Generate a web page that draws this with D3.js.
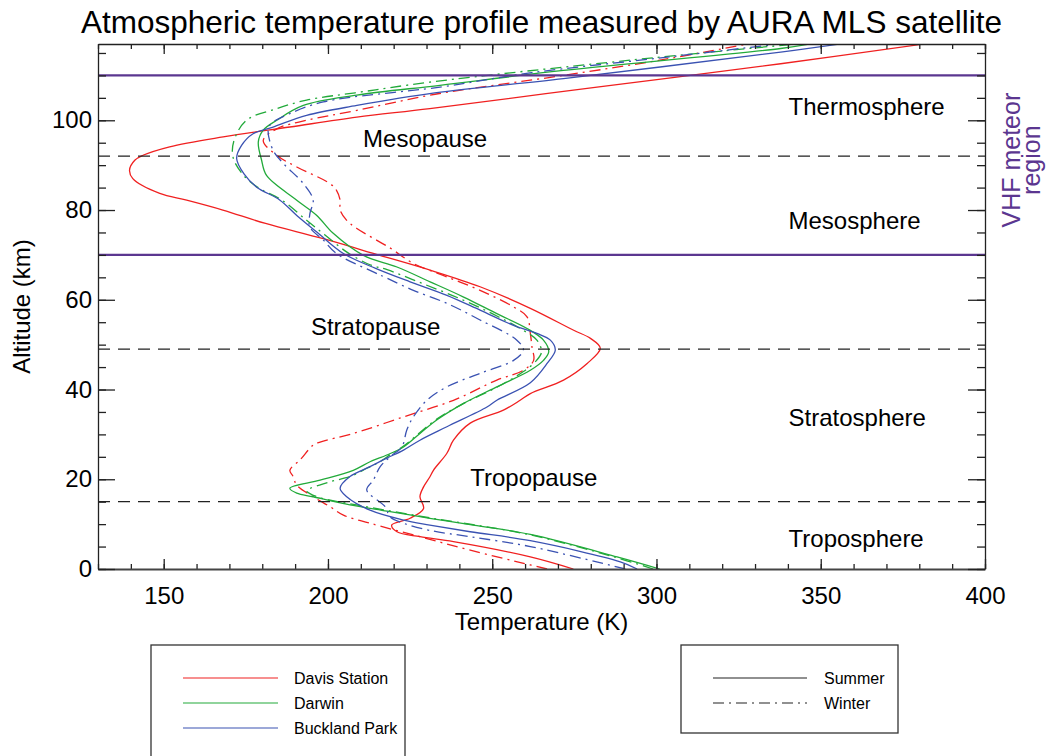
<!DOCTYPE html>
<html>
<head>
<meta charset="utf-8">
<script src="https://cdn.jsdelivr.net/npm/d3@7"></script>
<style>
  body { margin: 0; background: #fff; }
  svg { display: block; font-family: "Liberation Sans", Arial, Helvetica, sans-serif; }
  .curve { fill: none; stroke-width: 1.3; stroke-linejoin: round; }
</style>
</head>
<body>
<svg id="chart" width="1047" height="756"></svg>
<script>
'use strict';

// profiles: [temperature (K), altitude (km)]
const davisSummer = [[274.7,0],[261.6,2.7],[238.2,6.1],[228,7.2],[221,8.3],[219.4,9.8],[225,11.3],[229.1,13.5],[228,16.1],[229.1,18.3],[231,20.5],[232.1,22],[236.2,25.8],[238.2,28.7],[243.3,32.5],[253.4,35.4],[258.5,37.6],[261.6,39.1],[271.7,42.1],[278.9,45.8],[282.9,49.2],[279.9,51.4],[274.8,53.2],[261.6,58.1],[246.3,62.9],[231.1,66.6],[215.8,69.9],[198.6,73.6],[181,77],[168,80],[157,82.2],[148.8,83.7],[140.6,87],[139.6,88.9],[141.2,91.1],[143.7,92.2],[151.8,94.1],[168.1,96.3],[188.4,98.5],[208.8,100.7],[231,102.6],[281.9,107.4],[337.8,112.6],[380.5,116.9]];
const davisWinter = [[266.7,0],[261.6,0.9],[243.3,4.2],[228,7.2],[212.8,10.2],[204.7,12],[200.6,13.9],[195.5,16.1],[190.5,18.7],[189.4,20.6],[188.4,22],[191.5,24.3],[195.5,27.6],[197.6,28.3],[207.7,30.2],[223,33.9],[238.2,37.6],[251.4,42.1],[259.5,44.3],[262.6,46.5],[262.1,49.5],[261.6,52.5],[260.6,56.2],[256.5,58.4],[246.3,62.1],[236.2,65.1],[226,68.1],[219,71.5],[208.8,75.9],[205.7,77.7],[203.7,80],[203.7,82.2],[202.6,84.4],[200.6,85.9],[190.5,89.6],[184.4,92.2],[180.3,95.5],[184.4,98.1],[193.5,100],[208.8,102.2],[232.6,105.8],[271.7,110],[301,113.4],[327,116.9]];
const darwinSummer = [[301,0],[288,2.7],[261.6,7.7],[243.3,9.9],[231,11.3],[218,12.9],[206.7,14.3],[195.5,16.1],[190.5,16.9],[188.4,18],[197.6,19.8],[207.7,22],[212.8,23.9],[217.9,25.4],[223,27.2],[228,30.2],[233.1,33.2],[241.3,36.9],[251.4,40.6],[261.6,44.3],[265.6,46.5],[267.2,48.4],[265.6,51],[260.6,53.6],[251.4,56.9],[241.3,60.6],[231.1,64],[221,67.3],[210.8,69.9],[201.6,74.8],[196.6,78.8],[190.5,82.2],[181.3,87.7],[179.8,91.1],[178.8,95.2],[180.3,97.8],[184.4,100],[192.5,103.3],[208.8,105.6],[234.1,107.8],[271.7,111.1],[337.8,116],[346,116.9]];
const darwinWinter = [[299,0],[287,2.7],[261,7.7],[231,11.4],[210,14.1],[198,15.8],[194.5,16.8],[193.5,17.4],[200,19.3],[206.7,20.6],[212,22.5],[215.8,23.9],[219,25.5],[223,27.4],[228,30.4],[233.1,33.4],[241.3,36.9],[251.4,40.5],[259.5,44],[263.5,46.5],[265,48.4],[263.6,51],[258.5,53.6],[250,56.9],[240,60.3],[228.5,63.7],[218,66.7],[212.8,67.8],[206,70.5],[199,74.5],[193.5,77.7],[186,82.2],[178.5,85.1],[174,88],[171.1,91.8],[171.4,95.5],[175.2,100],[184.4,102.6],[193.5,104.5],[210,106.3],[231,108.5],[292,113.4],[341,116.9]];
const bucklandSummer = [[294.1,0],[289,1.6],[261.6,6.3],[243.3,8.3],[231,9.8],[223,10.9],[212.8,13.1],[205.7,16.1],[203.7,18],[206.7,20.6],[212.8,22.8],[217.9,24.7],[223,26.5],[228,28.7],[236.2,31.7],[248.4,36.1],[251.4,37.6],[261.6,41.5],[266.7,45.8],[269.2,48.8],[267.7,51],[263.6,52.5],[256.5,54.3],[246.3,57.7],[236.2,61],[225,64],[214.5,67],[204.7,70.3],[196.6,75.1],[190.5,78.8],[185.4,82.2],[178.3,85.1],[174.5,88],[172.2,91.5],[173.7,94.4],[177.2,97],[183.3,98.5],[193.5,101.1],[208.8,103.3],[232.5,106.1],[271.7,109.3],[337.8,115.2],[355,116.9]];
const bucklandWinter = [[290.5,0],[261.6,5],[243.3,7.2],[231,8.6],[223,10.2],[218.9,11.6],[217.4,13.9],[211.8,17.6],[213.8,19.8],[215.9,22.8],[218.9,25],[222.5,27.2],[224,31],[226,33.9],[230.1,37.6],[236.2,40.6],[246.3,43.6],[256.5,46.5],[259.5,48.8],[257.5,51],[246.3,55.5],[236.2,59.2],[226,62.1],[218,64.8],[213.8,66.2],[202.6,70.3],[198.6,73.3],[194.5,76.2],[194.5,79.2],[195.5,82.2],[192.5,85.9],[186.4,90.4],[183.3,93.3],[181.8,97.8],[182.8,99.3],[188.4,101.5],[198.6,104.1],[234.1,107.4],[262,110.6],[300,113.8],[336,116.9]];

const siteNames = ['Davis Station', 'Darwin', 'Buckland Park'];
const seasonNames = ['Summer', 'Winter'];
const xTicks = [150, 200, 250, 300, 350, 400];
const yTicks = [0, 20, 40, 60, 80, 100];

// boundaries (km)
const pauseNames = ['Mesopause', 'Stratopause', 'Tropopause'];
const pauseAlts = [92, 49, 15];
const meteorAlts = [110, 70];
const layerNames = ['Thermosphere', 'Mesosphere', 'Stratosphere', 'Troposphere'];

// where the labels sit, in data units [K, km]
const pauseLabelAt = [[210.7, 94], [194.8, 52.1], [243.3, 18.5]];
const layerLabelAt = [[340.2, 101.1], [340.2, 75.7], [340.2, 31.8], [340.2, 4.9]];

const colors = ['#f02020', '#22aa3a', '#3a52b2'];
const dashes = [null, '11,5,2,5'];
const purple = '#5b3690';

const profiles = [
  [davisSummer, davisWinter],
  [darwinSummer, darwinWinter],
  [bucklandSummer, bucklandWinter]
];

const x = d3.scaleLinear().domain([130, 400]).range([98, 985]);
const y = d3.scaleLinear().domain([0, 117]).range([569, 44]);

const svg = d3.select('#chart');
svg.append('rect').attr('width', 1047).attr('height', 756).attr('fill', '#fff');

svg.append('defs').append('clipPath').attr('id', 'plotClip')
  .append('rect')
  .attr('x', x(130)).attr('y', y(117))
  .attr('width', x(400) - x(130)).attr('height', y(0) - y(117));

const plot = svg.append('g').attr('clip-path', 'url(#plotClip)');

const line = d3.line()
  .curve(d3.curveCatmullRom.alpha(0.5))
  .x(d => x(d[0]))
  .y(d => y(d[1]));

profiles.forEach((pair, i) => {
  pair.forEach((prof, j) => {
    plot.append('path')
      .datum(prof)
      .attr('class', 'curve')
      .attr('stroke', colors[i])
      .attr('stroke-dasharray', dashes[j])
      .attr('d', line);
  });
});

plot.selectAll('line.pause')
  .data(pauseAlts)
  .enter().append('line')
  .attr('class', 'pause')
  .attr('x1', x(130)).attr('x2', x(400))
  .attr('y1', d => y(d)).attr('y2', d => y(d))
  .attr('stroke', '#222')
  .attr('stroke-width', 1.3)
  .attr('stroke-dasharray', '12,8');

plot.selectAll('line.meteor')
  .data(meteorAlts)
  .enter().append('line')
  .attr('class', 'meteor')
  .attr('x1', x(130)).attr('x2', x(400))
  .attr('y1', d => y(d)).attr('y2', d => y(d))
  .attr('stroke', purple)
  .attr('stroke-width', 2.4);

// axes
function styleAxis(g) {
  g.attr('font-family', null).attr('font-size', 24);
  g.selectAll('path, line').attr('stroke', '#222').attr('stroke-width', 1.3);
  g.selectAll('text').attr('fill', '#000');
}
function noDomain(g) { g.select('.domain').remove(); }

svg.append('g').attr('transform', `translate(0,${y(0)})`)
  .call(d3.axisBottom(x).tickValues(d3.range(130, 401, 10)).tickSize(-5).tickFormat(''))
  .call(noDomain).call(styleAxis);
svg.append('g').attr('transform', `translate(0,${y(0)})`)
  .call(d3.axisBottom(x).tickValues(xTicks).tickSize(-10).tickSizeOuter(0).tickPadding(18))
  .call(styleAxis)
  .call(g => g.select('.domain').attr('stroke', '#444').attr('stroke-width', 2));

svg.append('g').attr('transform', `translate(0,${y(117)})`)
  .call(d3.axisTop(x).tickValues(d3.range(130, 401, 10)).tickSize(-5).tickFormat(''))
  .call(noDomain).call(styleAxis);
svg.append('g').attr('transform', `translate(0,${y(117)})`)
  .call(d3.axisTop(x).tickValues(xTicks).tickSize(-10).tickSizeOuter(0).tickFormat(''))
  .call(styleAxis);

svg.append('g').attr('transform', `translate(${x(130)},0)`)
  .call(d3.axisLeft(y).tickValues(d3.range(0, 117, 5)).tickSize(-8).tickFormat(''))
  .call(noDomain).call(styleAxis);
svg.append('g').attr('transform', `translate(${x(130)},0)`)
  .call(d3.axisLeft(y).tickValues(yTicks).tickSize(-17).tickSizeOuter(0).tickPadding(6))
  .call(styleAxis);

svg.append('g').attr('transform', `translate(${x(400)},0)`)
  .call(d3.axisRight(y).tickValues(d3.range(0, 117, 5)).tickSize(-8).tickFormat(''))
  .call(noDomain).call(styleAxis);
svg.append('g').attr('transform', `translate(${x(400)},0)`)
  .call(d3.axisRight(y).tickValues(yTicks).tickSize(-17).tickSizeOuter(0).tickFormat(''))
  .call(styleAxis);

// labels
svg.append('text')
  .attr('x', (x(130) + x(400)) / 2).attr('y', 33)
  .attr('text-anchor', 'middle').attr('font-size', 31.5)
  .text('Atmospheric temperature profile measured by AURA MLS satellite');

svg.append('text')
  .attr('x', (x(130) + x(400)) / 2).attr('y', 630)
  .attr('text-anchor', 'middle').attr('font-size', 24)
  .text('Temperature (K)');

svg.append('text')
  .attr('transform', `translate(30,${(y(0) + y(117)) / 2}) rotate(-90)`)
  .attr('text-anchor', 'middle').attr('font-size', 24)
  .text('Altitude (km)');

svg.selectAll('text.pause')
  .data(pauseNames)
  .enter().append('text')
  .attr('class', 'pause')
  .attr('x', (d, i) => x(pauseLabelAt[i][0]))
  .attr('y', (d, i) => y(pauseLabelAt[i][1]))
  .attr('font-size', 24)
  .text(d => d);

svg.selectAll('text.layer')
  .data(layerNames)
  .enter().append('text')
  .attr('class', 'layer')
  .attr('x', (d, i) => x(layerLabelAt[i][0]))
  .attr('y', (d, i) => y(layerLabelAt[i][1]))
  .attr('font-size', 24)
  .text(d => d);

const vhf = svg.append('g')
  .attr('transform', `translate(1020,${(y(110) + y(70)) / 2 - 5}) rotate(-90)`)
  .attr('fill', purple).attr('font-size', 25).attr('text-anchor', 'middle');
vhf.append('text').attr('y', 0).text('VHF meteor');
vhf.append('text').attr('y', 20).text('region');

// legends
const legendSites = svg.append('g');
legendSites.append('rect')
  .attr('x', 151).attr('y', 645).attr('width', 254).attr('height', 130)
  .attr('fill', 'none').attr('stroke', '#333').attr('stroke-width', 1.3);
siteNames.forEach((name, i) => {
  const ly = 678 + i * 25;
  legendSites.append('line')
    .attr('x1', 183).attr('x2', 278).attr('y1', ly).attr('y2', ly)
    .attr('stroke', colors[i]).attr('stroke-width', 1.2);
  legendSites.append('text')
    .attr('x', 294).attr('y', ly).attr('dy', '0.35em')
    .attr('font-size', 16).text(name);
});

const legendSeasons = svg.append('g');
legendSeasons.append('rect')
  .attr('x', 681).attr('y', 645).attr('width', 217).attr('height', 88)
  .attr('fill', 'none').attr('stroke', '#333').attr('stroke-width', 1.3);
seasonNames.forEach((name, i) => {
  const ly = 678 + i * 25;
  legendSeasons.append('line')
    .attr('x1', 713).attr('x2', 807).attr('y1', ly).attr('y2', ly)
    .attr('stroke', '#222').attr('stroke-width', 1.2)
    .attr('stroke-dasharray', dashes[i]);
  legendSeasons.append('text')
    .attr('x', 824).attr('y', ly).attr('dy', '0.35em')
    .attr('font-size', 16).text(name);
});
</script>
</body>
</html>
